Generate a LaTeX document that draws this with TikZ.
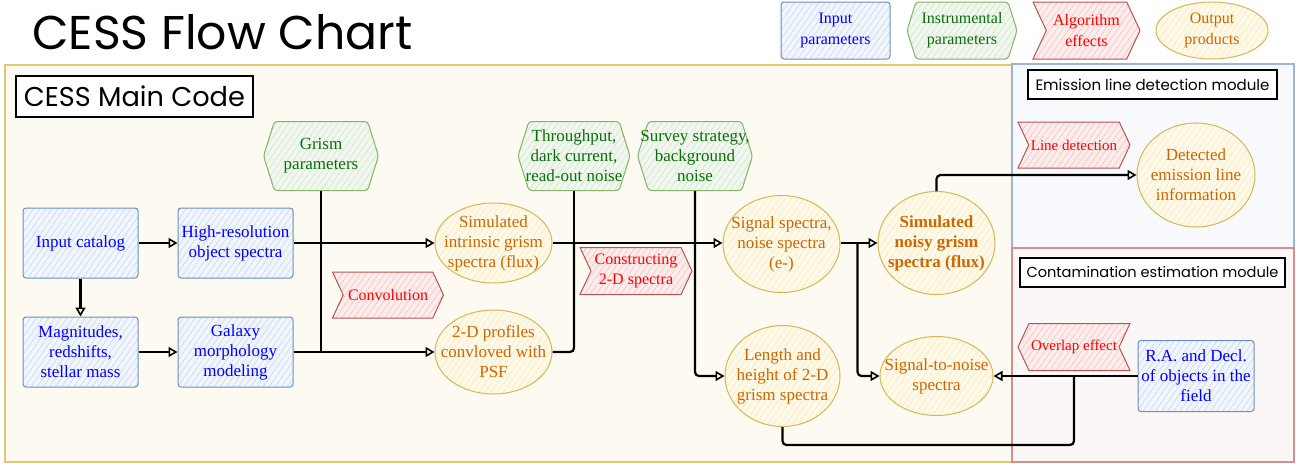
\documentclass[tikz,border=0pt]{standalone}
\usepackage{fontspec}
\setmainfont{Liberation Serif}
\newfontfamily\handfont{Poppins}
\usetikzlibrary{shapes.geometric,shapes.symbols,arrows.meta,patterns.meta,calc}

\definecolor{inpD}{HTML}{6C8EBF}
\definecolor{inpF}{HTML}{F1F5FC}
\definecolor{inpH}{HTML}{C2D4EE}
\definecolor{insD}{HTML}{82B366}
\definecolor{insF}{HTML}{F1F7EF}
\definecolor{insH}{HTML}{CDE3C6}
\definecolor{insT}{HTML}{0A6E0A}
\definecolor{algD}{HTML}{B85450}
\definecolor{algF}{HTML}{FCEDEC}
\definecolor{algH}{HTML}{F0BEBB}
\definecolor{outD}{HTML}{D6B656}
\definecolor{outF}{HTML}{FFF9E8}
\definecolor{outH}{HTML}{F6E7BE}
\definecolor{outT}{HTML}{CC6600}
\definecolor{mainD}{HTML}{E5C673}
\definecolor{mainF}{HTML}{FDFBF1}
\definecolor{emD}{HTML}{9DB4D6}
\definecolor{emF}{HTML}{F8F9FC}
\definecolor{ceD}{HTML}{D98C8C}
\definecolor{ceF}{HTML}{FCF7F7}

\tikzset{
  base/.style={align=center, font=\fontsize{17}{20}\selectfont, line width=1pt},
  hatch/.style={pattern={Lines[angle=55,distance=5pt,line width=0.5pt]}, pattern color=#1},
  inp/.style={base, rectangle, rounded corners=3pt, draw=inpD, text=blue,
    preaction={fill=inpF}, hatch=inpH, minimum width=115pt, minimum height=70pt, inner sep=0pt},
  ins/.style={base, signal, signal to=west and east, signal pointer angle=145,
    draw=insD, text=insT, preaction={fill=insF}, hatch=insH, rounded corners=3pt,
    minimum width=115pt, minimum height=69pt, inner xsep=-12pt, inner ysep=0pt},
  alg/.style={base, font=\fontsize{16}{20}\selectfont, signal, signal to=east, signal from=west,
    signal pointer angle=130, draw=algD, text=red, preaction={fill=algF}, hatch=algH,
    minimum width=111pt, minimum height=46pt, inner xsep=-10pt, inner ysep=0pt},
  algrev/.style={alg, signal to=west, signal from=east},
  outp/.style={base, ellipse, draw=outD, text=outT, preaction={fill=outF}, hatch=outH,
    minimum width=117pt, minimum height=85pt, inner sep=-16pt},
  lgfont/.style={font=\fontsize{16}{21}\selectfont},
  lblbox/.style={draw=black, line width=1.6pt, fill=white, inner sep=0pt},
  mainframe/.style={draw=mainD, line width=1.4pt, fill=mainF},
  emframe/.style={draw=emD, line width=1.2pt, fill=emF},
  ceframe/.style={draw=ceD, line width=1.2pt, fill=ceF},
  conn/.style={draw=black, line width=2.2pt},
  arr/.style={conn, -{Triangle[open, length=9pt, width=10pt, line width=1.6pt]}},
}

\begin{document}
\begin{tikzpicture}[x=1pt,y=-1pt]
\useasboundingbox (0,0) rectangle (1311,466);
\fill[white] (0,0) rectangle (1311,466);

% frames
\path[mainframe] (5,65) rectangle (1012,462);
\path[emframe] (1012,64) rectangle (1294,248);
\path[ceframe] (1012,248) rectangle (1294,462);

% titles
\node (title) [anchor=west, inner sep=0pt] at (32,32) {\resizebox{380pt}{!}{\handfont CESS Flow Chart}};
\node (mainlbl) [lblbox, minimum width=237pt, minimum height=41pt] at (134.5,96.5)
  {\resizebox{221pt}{!}{\handfont CESS Main Code}};
\node (emlbl) [lblbox, minimum width=249pt, minimum height=29pt] at (1152.5,84.5)
  {\resizebox{234pt}{!}{\handfont Emission line detection module}};
\node (celbl) [lblbox, minimum width=265pt, minimum height=29pt] at (1152.5,272.5)
  {\resizebox{252pt}{!}{\handfont Contamination estimation module}};

% legend
\node (lgin) [inp, lgfont, minimum width=109pt, minimum height=57pt] at (835.5,30.5) {Input\\parameters};
\node (lgins) [ins, lgfont, minimum width=110pt, minimum height=57pt] at (962,30.5) {Instrumental\\parameters};
\node (lgalg) [alg, lgfont, minimum width=107pt, minimum height=57pt] at (1086.5,30.5) {Algorithm\\effects};
\node (lgout) [outp, lgfont, minimum width=112pt, minimum height=57pt] at (1212,30.5) {Output\\products};

% input parameters
\node (ic) [inp] at (80.5,243) {Input catalog};
\node (hr) [inp] at (235.5,243) {High-resolution\\object spectra};
\node (mag) [inp] at (80.5,352) {Magnitudes,\\redshifts,\\stellar mass};
\node (gal) [inp] at (235.5,352) {Galaxy\\morphology\\modeling};
\node (ra) [inp, minimum width=116pt, minimum height=71pt] at (1196,376) {R.A. and Decl.\\of objects in the\\field};

% instrumental parameters
\node (grism) [ins] at (321,156) {Grism\\parameters};
\node (thr) [ins, minimum width=112pt] at (574,156) {Throughput,\\dark current,\\read-out noise};
\node (surv) [ins] at (695,156) {Survey strategy,\\background\\noise};

% algorithm effects
\node (conv) [alg] at (388,295) {Convolution};
\node (cons) [alg, minimum width=112pt, minimum height=47pt] at (636,271) {Constructing\\2-D spectra};
\node (ldet) [alg, font=\fontsize{15}{20}\selectfont, minimum width=112pt] at (1074,145) {Line detection};
\node (ovl) [algrev, font=\fontsize{15}{20}\selectfont, minimum width=112pt, minimum height=47pt] at (1074,347) {Overlap effect};

% output products
\node (sis) [outp, minimum width=117pt, minimum height=80pt] at (493.5,243) {Simulated\\intrinsic grism\\spectra (flux)};
\node (prof) [outp, minimum width=117pt, minimum height=84pt] at (493.5,352) {2-D profiles\\convloved with\\PSF};
\node (sig) [outp, minimum width=117pt, minimum height=97pt] at (781.5,244) {Signal spectra,\\noise spectra\\(e-)};
\node (len) [outp, minimum width=115pt, minimum height=101pt] at (782.5,376) {Length and\\height of 2-D\\grism spectra};
\node (noisy) [outp, minimum width=117pt, minimum height=103pt] at (936.5,243) {\textbf{Simulated}\\\textbf{noisy grism}\\\textbf{spectra (flux)}};
\node (sn) [outp, minimum width=113pt, minimum height=79pt] at (936.5,376) {Signal-to-noise\\spectra};
\node (det) [outp, minimum width=118pt, minimum height=104pt] at (1196,175) {Detected\\emission line\\information};

% connectors
\draw[arr] (ic) -- (hr);
\draw[arr] (ic) -- (mag);
\draw[arr] (mag) -- (gal);
\draw[arr] (hr.east) -- (hr.east -| sis.west);
\draw[arr] (gal) -- (prof);
\draw[conn] (grism.south) -- (grism.south |- gal.east);
\draw[conn, rounded corners=4pt] (prof.east) -| (thr.south |- sis.east);
\draw[conn] (thr.south) -- (thr.south |- sis.east);
\draw[arr] (sis.east) -- (sis.east -| sig.west);
\draw[arr, rounded corners=4pt] (surv.south) |- (len.west);
\draw[arr] (sig.east |- noisy.west) -- (noisy.west);
\coordinate (br) at ($(sig.east |- noisy.west)+(17,0)$);
\draw[arr, rounded corners=4pt] (br) |- (sn.west);
\draw[arr, rounded corners=4pt] (noisy.north) |- (det.west);
\draw[arr] (ra) -- (sn);
\coordinate (jn) at (1074,376);
\coordinate (bot) at (1074,445);
\draw[conn, rounded corners=4pt] (len.south) |- (bot) -- (jn);
\end{tikzpicture}
\end{document}
